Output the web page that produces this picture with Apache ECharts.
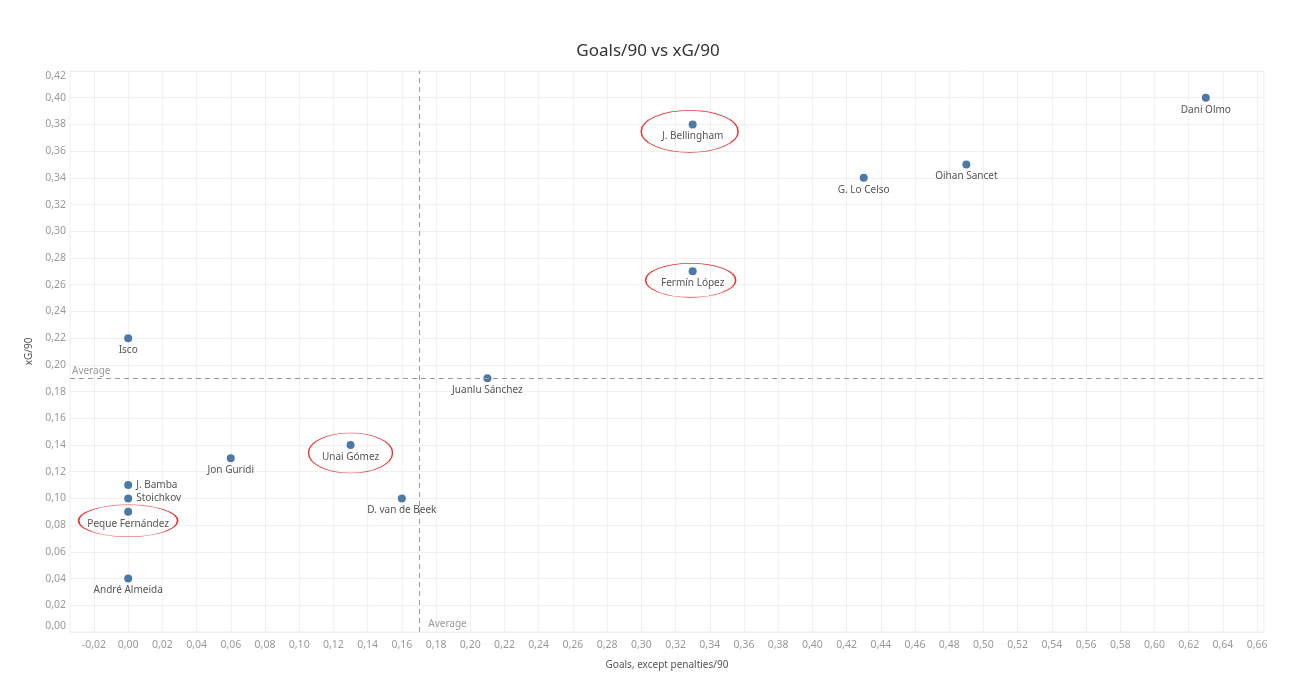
<!DOCTYPE html>
<html>
<head>
<meta charset="utf-8">
<title>Goals/90 vs xG/90</title>
<script src="https://cdn.jsdelivr.net/npm/echarts@6/dist/echarts.min.js"></script>
<style>
  html, body { margin: 0; padding: 0; background: #fff; }
  #chart { width: 1296px; height: 690px; }
</style>
</head>
<body>
<div id="chart"></div>
<script>
// datos
var players = ['Dani Olmo', 'J. Bellingham', 'Oihan Sancet', 'G. Lo Celso', 'Fermín López', 'Isco',
  'Juanlu Sánchez', 'Unai Gómez', 'Jon Guridi', 'J. Bamba', 'Stoichkov', 'D. van de Beek',
  'Peque Fernández', 'André Almeida'];
var goals90 = [0.63, 0.33, 0.49, 0.43, 0.33, 0.00, 0.21, 0.13, 0.06, 0.00, 0.00, 0.16, 0.00, 0.00];
var xg90 = [0.40, 0.38, 0.35, 0.34, 0.27, 0.22, 0.19, 0.14, 0.13, 0.11, 0.10, 0.10, 0.09, 0.04];
var labelRight = ['J. Bamba', 'Stoichkov'];
var highlighted = ['J. Bellingham', 'Fermín López', 'Unai Gómez', 'Peque Fernández'];
var avgGoals = 0.174;
var avgXg = 0.188;
var xTicks = [-0.02, 0.00, 0.02, 0.04, 0.06, 0.08, 0.10, 0.12, 0.14, 0.16, 0.18, 0.20, 0.22, 0.24,
  0.26, 0.28, 0.30, 0.32, 0.34, 0.36, 0.38, 0.40, 0.42, 0.44, 0.46, 0.48, 0.50, 0.52, 0.54, 0.56,
  0.58, 0.60, 0.62, 0.64, 0.66];
var yTicks = [0.00, 0.02, 0.04, 0.06, 0.08, 0.10, 0.12, 0.14, 0.16, 0.18, 0.20, 0.22, 0.24, 0.26,
  0.28, 0.30, 0.32, 0.34, 0.36, 0.38, 0.40, 0.42];

// tamaño y desplazamiento de las elipses rojas
var ellipseStyle = {
  'J. Bellingham': { size: [97, 42], offset: [-3, 7] },
  'Fermín López': { size: [90, 34], offset: [-2, 9] },
  'Unai Gómez': { size: [84, 40], offset: [0, 8] },
  'Peque Fernández': { size: [99, 32], offset: [0, 9] }
};

var font = 'Noto Sans';
function fmt(v) { return v.toFixed(2).replace('.', ','); }

var pointData = players.map(function (name, i) {
  var item = { name: name, value: [goals90[i], xg90[i]] };
  if (labelRight.indexOf(name) >= 0) {
    item.label = { position: 'right', distance: 4 };
  }
  return item;
});

var ellipseData = highlighted.map(function (name) {
  var i = players.indexOf(name);
  return {
    name: name,
    value: [goals90[i], xg90[i]],
    symbolSize: ellipseStyle[name].size,
    symbolOffset: ellipseStyle[name].offset
  };
});

var chart = echarts.init(document.getElementById('chart'));
chart.setOption({
  backgroundColor: '#fff',
  animation: false,
  title: {
    text: 'Goals/90 vs xG/90',
    left: 'center',
    top: 38,
    textStyle: { fontFamily: font, fontSize: 17, fontWeight: 'normal', color: '#333' }
  },
  grid: {
    left: 70, right: 32, top: 71, bottom: 58,
    show: true, borderColor: '#efefef', borderWidth: 1
  },
  xAxis: {
    type: 'value',
    min: -0.034,
    max: 0.664,
    name: 'Goals, except penalties/90',
    nameLocation: 'middle',
    nameGap: 28,
    nameTextStyle: { fontFamily: font, fontSize: 10, color: '#555' },
    axisLine: { show: false },
    axisTick: { show: false, customValues: xTicks },
    axisLabel: {
      customValues: xTicks,
      formatter: fmt,
      margin: 8,
      fontFamily: font, fontSize: 10.5, color: '#999'
    },
    splitLine: { show: true, lineStyle: { color: '#f0f0f0', width: 1 } }
  },
  yAxis: {
    type: 'value',
    min: 0,
    max: 0.42,
    name: 'xG/90',
    nameLocation: 'middle',
    nameGap: 28,
    nameTextStyle: { fontFamily: font, fontSize: 10, color: '#555' },
    axisLine: { show: false },
    axisTick: { show: false, customValues: yTicks },
    axisLabel: {
      customValues: yTicks,
      formatter: fmt,
      margin: 4,
      verticalAlignMinLabel: 'bottom',
      verticalAlignMaxLabel: 'top',
      fontFamily: font, fontSize: 10.5, color: '#999'
    },
    splitLine: { show: true, lineStyle: { color: '#f0f0f0', width: 1 } }
  },
  series: [
    {
      name: 'jugadores',
      type: 'scatter',
      symbolSize: 8,
      itemStyle: { color: '#4e79a7', opacity: 1 },
      label: {
        show: true,
        position: 'bottom',
        distance: 3,
        formatter: '{b}',
        fontFamily: font,
        fontSize: 10,
        color: '#555'
      },
      data: pointData,
      markLine: {
        silent: true,
        symbol: 'none',
        lineStyle: { color: '#999', type: [5, 4], width: 1 },
        data: [
          {
            yAxis: avgXg,
            label: {
              show: true, position: 'insideStartTop', formatter: 'Average',
              distance: 2,
              fontFamily: font, fontSize: 10, color: '#999'
            }
          },
          { xAxis: avgGoals, label: { show: false } }
        ]
      },
      markPoint: {
        silent: true,
        symbol: 'circle',
        symbolSize: 1,
        itemStyle: { color: 'rgba(0,0,0,0)' },
        data: [
          {
            coord: [avgGoals, 0],
            label: {
              show: true, position: 'right', distance: 2, offset: [0, -8],
              formatter: 'Average',
              fontFamily: font, fontSize: 10, color: '#999'
            }
          }
        ]
      },
      z: 3
    },
    {
      name: 'destacados',
      type: 'scatter',
      symbol: 'circle',
      silent: true,
      itemStyle: { color: 'rgba(0,0,0,0)', borderColor: '#e5393b', borderWidth: 1, opacity: 1 },
      data: ellipseData,
      z: 2
    }
  ]
});
</script>
</body>
</html>
